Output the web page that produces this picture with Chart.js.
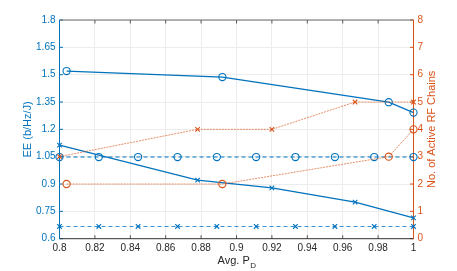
<!DOCTYPE html>
<html><head><meta charset="utf-8">
<script src="https://cdn.jsdelivr.net/npm/chart.js@4/dist/chart.umd.min.js"></script>
<style>html,body{margin:0;padding:0;background:#fff;}canvas{display:block;}</style>
</head><body>
<canvas id="c" width="457" height="271"></canvas>
<script>
// ---- data ----
const xTicks = [0.8,0.82,0.84,0.86,0.88,0.9,0.92,0.94,0.96,0.98,1];
const eeTicks = [0.6,0.75,0.9,1.05,1.2,1.35,1.5,1.65,1.8];
const rfTicks = [0,1,2,3,4,5,6,7,8];

const eeCircX = [0.804,0.892,0.986,1.0];
const eeCircY = [1.520,1.487,1.349,1.292];
const eeCrossX = [0.8,0.878,0.92,0.967,1.0];
const eeCrossY = [1.113,0.921,0.879,0.801,0.714];
const refX = [0.8,0.8222,0.8444,0.8667,0.8889,0.9111,0.9333,0.9556,0.9778,1.0];
const refCircY = [1.048,1.048,1.048,1.048,1.048,1.048,1.048,1.048,1.048,1.048];
const refCrossY = [0.667,0.667,0.667,0.667,0.667,0.667,0.667,0.667,0.667,0.667];
const rfCrossX = [0.8,0.878,0.92,0.967,1.0];
const rfCrossY = [3,4,4,5,5];
const rfCircX = [0.804,0.892,0.986,1.0];
const rfCircY = [2,2,3,4];

const BLUE = '#0072BD', BLUE2 = '#3b8fd3', ORANGE = '#D95319';
const pts = (xs, ys) => xs.map((x,i)=>({x:x, y:ys[i]}));
const FONT = 'Liberation Sans, Arial, sans-serif';

const PLOT = {left:59.5, right:413.5, top:20, bottom:238.7};

const decor = {
  id:'decor',
  beforeDatasetsDraw(chart){
    const ctx = chart.ctx, a = chart.chartArea;
    const xs = chart.scales.x, yl = chart.scales.yL, yr = chart.scales.yR;
    ctx.save();
    ctx.lineWidth = 1;
    ctx.strokeStyle = '#555';
    xTicks.forEach(v=>{
      const px = xs.getPixelForValue(v);
      ctx.beginPath(); ctx.moveTo(px, a.bottom); ctx.lineTo(px, a.bottom-3.5); ctx.stroke();
      ctx.beginPath(); ctx.moveTo(px, a.top); ctx.lineTo(px, a.top+3.5); ctx.stroke();
    });
    ctx.strokeStyle = BLUE;
    eeTicks.forEach(v=>{
      const py = yl.getPixelForValue(v);
      ctx.beginPath(); ctx.moveTo(a.left, py); ctx.lineTo(a.left+3.5, py); ctx.stroke();
    });
    ctx.strokeStyle = ORANGE;
    rfTicks.forEach(v=>{
      const py = yr.getPixelForValue(v);
      ctx.beginPath(); ctx.moveTo(a.right, py); ctx.lineTo(a.right-3.5, py); ctx.stroke();
    });
    ctx.strokeStyle = '#6a6a6a';
    ctx.beginPath(); ctx.moveTo(a.left, a.top); ctx.lineTo(a.right, a.top); ctx.stroke();
    ctx.strokeStyle = '#333';
    ctx.beginPath(); ctx.moveTo(a.left, a.bottom); ctx.lineTo(a.right, a.bottom); ctx.stroke();
    ctx.strokeStyle = BLUE;
    ctx.beginPath(); ctx.moveTo(a.left, a.top); ctx.lineTo(a.left, a.bottom); ctx.stroke();
    ctx.strokeStyle = ORANGE;
    ctx.beginPath(); ctx.moveTo(a.right, a.top); ctx.lineTo(a.right, a.bottom); ctx.stroke();
    ctx.restore();
  },
  afterDraw(chart){
    const ctx = chart.ctx, a = chart.chartArea;
    const cy = (a.top + a.bottom)/2;
    ctx.save();
    ctx.font = '11px ' + FONT;
    ctx.textAlign = 'center'; ctx.textBaseline = 'middle';
    ctx.fillStyle = BLUE;
    ctx.save(); ctx.translate(28, cy); ctx.rotate(-Math.PI/2); ctx.fillText('EE (b/Hz/J)', 0, 0); ctx.restore();
    ctx.fillStyle = ORANGE;
    ctx.save(); ctx.translate(432, cy); ctx.rotate(-Math.PI/2); ctx.fillText('No. of Active RF Chains', 0, 0); ctx.restore();
    ctx.fillStyle = '#262626';
    const main = 'Avg. P', sub = 'D';
    ctx.font = '11px ' + FONT;
    const w1 = ctx.measureText(main).width;
    ctx.font = '8px ' + FONT;
    const w2 = ctx.measureText(sub).width;
    const cx = (a.left + a.right)/2;
    const x0 = cx - (w1+w2)/2;
    ctx.textAlign = 'left';
    ctx.font = '11px ' + FONT;
    ctx.fillText(main, x0, 261);
    ctx.font = '8px ' + FONT;
    ctx.fillText(sub, x0 + w1 + 0.5, 266);
    ctx.restore();
  }
};

const fmt = v => String(Math.round(v*100)/100);

new Chart(document.getElementById('c'), {
  type:'line',
  data:{
    datasets:[
      {data:pts(rfCrossX, rfCrossY), yAxisID:'yR', borderColor:'rgba(217,83,25,0.65)', borderWidth:1, borderDash:[2,1],
       pointStyle:'crossRot', pointRadius:3.2, pointBorderColor:ORANGE, pointBorderWidth:1.1, pointBackgroundColor:'rgba(0,0,0,0)', clip:false},
      {data:pts(rfCircX, rfCircY), yAxisID:'yR', borderColor:'rgba(217,83,25,0.65)', borderWidth:1, borderDash:[2,1],
       pointStyle:'circle', pointRadius:3.6, pointBorderColor:ORANGE, pointBorderWidth:1.1, pointBackgroundColor:'rgba(0,0,0,0)', clip:false},
      {data:pts(eeCircX, eeCircY), yAxisID:'yL', borderColor:BLUE, borderWidth:1.2,
       pointStyle:'circle', pointRadius:3.6, pointBorderColor:BLUE, pointBorderWidth:1.1, pointBackgroundColor:'rgba(0,0,0,0)', clip:false},
      {data:pts(eeCrossX, eeCrossY), yAxisID:'yL', borderColor:BLUE, borderWidth:1.2,
       pointStyle:'crossRot', pointRadius:3.2, pointBorderColor:BLUE, pointBorderWidth:1.1, pointBackgroundColor:'rgba(0,0,0,0)', clip:false},
      {data:pts(refX, refCircY), yAxisID:'yL', borderColor:BLUE, borderWidth:1.1, borderDash:[4,3],
       pointStyle:'circle', pointRadius:3.6, pointBorderColor:BLUE, pointBorderWidth:1.1, pointBackgroundColor:'rgba(0,0,0,0)', clip:false},
      {data:pts(refX, refCrossY), yAxisID:'yL', borderColor:BLUE2, borderWidth:1.1, borderDash:[4,3],
       pointStyle:'crossRot', pointRadius:3.2, pointBorderColor:BLUE, pointBorderWidth:1.1, pointBackgroundColor:'rgba(0,0,0,0)', clip:false}
    ]
  },
  options:{
    responsive:false, animation:false, devicePixelRatio:1,
    layout:{padding:{top:PLOT.top, left:0, right:0, bottom:0}},
    plugins:{legend:{display:false}, tooltip:{enabled:false}},
    scales:{
      x:{type:'linear', min:0.8, max:1,
         afterBuildTicks:s=>{s.ticks = xTicks.map(v=>({value:v}));},
         afterFit:s=>{s.height = 271 - PLOT.bottom;},
         ticks:{callback:fmt, color:'#262626', font:{family:FONT, size:10}, padding:4, maxRotation:0, autoSkip:false},
         grid:{color:'#ececec', lineWidth:1, drawTicks:false}, border:{display:false}},
      yL:{type:'linear', position:'left', min:0.6, max:1.8,
         afterBuildTicks:s=>{s.ticks = eeTicks.map(v=>({value:v}));},
         afterFit:s=>{s.width = PLOT.left;},
         ticks:{callback:fmt, color:BLUE, font:{family:FONT, size:10}, padding:4, autoSkip:false},
         grid:{color:'#ececec', lineWidth:1, drawTicks:false}, border:{display:false}},
      yR:{type:'linear', position:'right', min:0, max:8,
         afterBuildTicks:s=>{s.ticks = rfTicks.map(v=>({value:v}));},
         afterFit:s=>{s.width = 457 - PLOT.right;},
         ticks:{callback:fmt, color:ORANGE, font:{family:FONT, size:10}, padding:4, autoSkip:false},
         grid:{display:false, drawTicks:false}, border:{display:false}}
    }
  },
  plugins:[decor]
});
</script>
</body></html>
